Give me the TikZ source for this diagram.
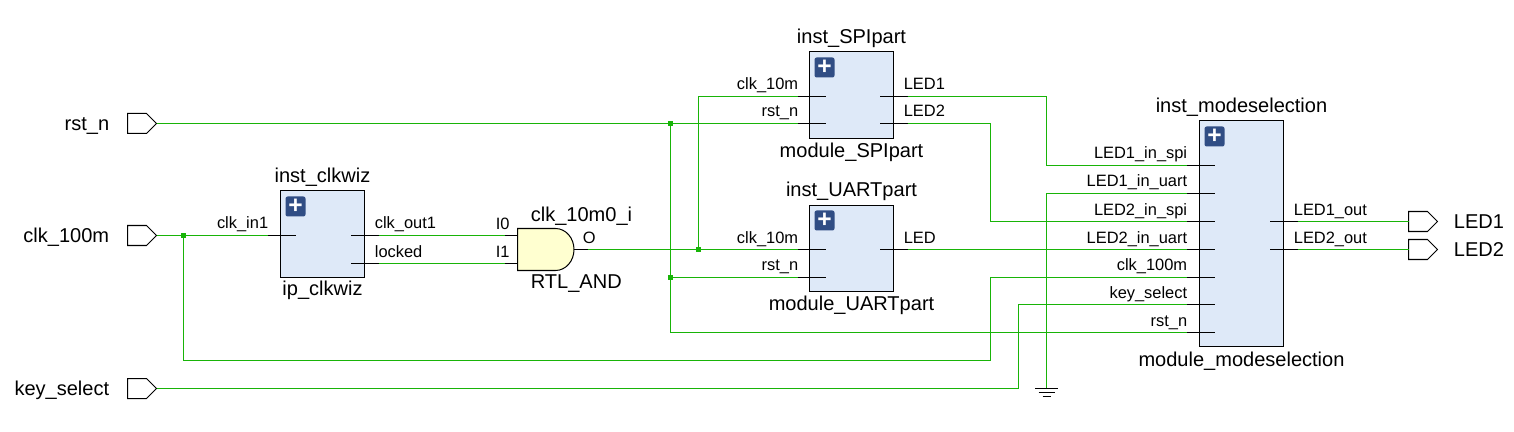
\documentclass[tikz,border=0pt]{standalone}
\usepackage{fontspec}
\setmainfont{Liberation Sans}
\usetikzlibrary{shapes,shapes.symbols,arrows,positioning,calc}
\definecolor{wiregreen}{RGB}{24,180,8}
\definecolor{blockblue}{RGB}{222,233,248}
\definecolor{plusblue}{RGB}{48,77,132}
\definecolor{gateyellow}{RGB}{255,255,208}
\def\px{0.02cm}
\tikzset{
  wire/.style={draw=wiregreen, line width=0.57pt},
  pinline/.style={draw=black, line width=0.57pt},
  blockbox/.style={draw=black, fill=blockblue, line width=0.62pt, inner sep=0pt, outer sep=0pt},
  plusicon/.style={fill=plusblue, rounded corners=1.2pt, minimum size=20*\px, inner sep=0pt, text=white, font=\fontsize{14}{14}\selectfont\bfseries},
  junction/.style={fill=wiregreen, minimum size=5.5*\px, inner sep=0pt, outer sep=0pt},
  portbox/.style={draw=black, fill=white, line width=0.57pt, shape=signal, signal to=east, signal from=nowhere, signal pointer angle=90, minimum width=29*\px, minimum height=20*\px, inner sep=0pt, outer sep=0pt, anchor=west},
  biglabel/.style={font=\fontsize{11.4}{11.4}\selectfont, inner sep=0pt},
  pinlabel/.style={font=\fontsize{9.35}{9.35}\selectfont, inner sep=0pt}
}
\begin{document}
\begin{tikzpicture}[x=0.02cm, y=-0.02cm]
    \useasboundingbox (0,0) rectangle (1514,432);
    \begin{scope}[shift={(0.5,0.5)}]

    % Top level ports
    \node[portbox] (rstport) at (127,123) {};
    \node[portbox] (clkport) at (127,235) {};
    \node[portbox] (keyport) at (127,388) {};
    \node[portbox] (ledoneport) at (1408,221) {};
    \node[portbox] (ledtwoport) at (1408,249) {};
    \node[biglabel, anchor=base east] (rstlabel) at (109,130) {rst\_n};
    \node[biglabel, anchor=base east] (clklabel) at (109,242) {clk\_100m};
    \node[biglabel, anchor=base east] (keylabel) at (109,395) {key\_select};
    \node[biglabel, anchor=base west] (ledonelabel) at (1453,228) {LED1};
    \node[biglabel, anchor=base west] (ledtwolabel) at (1453,256) {LED2};

    % Blocks
    \node[blockbox, minimum width=84*\px, minimum height=87*\px] (clkwiz) at (322,233.5) {};
    \node[blockbox, minimum width=84*\px, minimum height=87*\px] (spi) at (851,94.5) {};
    \node[blockbox, minimum width=84*\px, minimum height=86*\px] (uart) at (851,248) {};
    \node[blockbox, minimum width=84*\px, minimum height=226*\px] (mode) at (1241,233) {};
    \node[plusicon] (clkwizplus) at (295,206) {+};
    \node[plusicon] (spiplus) at (824,67) {+};
    \node[plusicon] (uartplus) at (824,220) {+};
    \node[plusicon] (modeplus) at (1214,136) {+};
    \node[biglabel, anchor=base] (clkwiztop) at (322,182) {inst\_clkwiz};
    \node[biglabel, anchor=base] (clkwizbot) at (322,295) {ip\_clkwiz};
    \node[biglabel, anchor=base] (spitop) at (851,43) {inst\_SPIpart};
    \node[biglabel, anchor=base] (spibot) at (851,157) {module\_SPIpart};
    \node[biglabel, anchor=base] (uarttop) at (851,196) {inst\_UARTpart};
    \node[biglabel, anchor=base] (uartbot) at (851,310) {module\_UARTpart};
    \node[biglabel, anchor=base] (modetop) at (1241,112) {inst\_modeselection};
    \node[biglabel, anchor=base] (modebot) at (1241,366) {module\_modeselection};

    % AND gate
    \draw[fill=gateyellow, line width=0.57pt] (517,228) -- (555,228) arc[start angle=-90, end angle=90, x radius=18.5, y radius=21] -- (517,270) -- cycle;
    \coordinate (gateina) at (517,235);
    \coordinate (gateinb) at (517,263);
    \coordinate (gateoutpin) at (573.5,249);
    \node[biglabel, anchor=base west] (gatetop) at (530,221) {clk\_10m0\_i};
    \node[biglabel, anchor=base west] (gatebot) at (530,288) {RTL\_AND};
    \node[pinlabel, anchor=base west] (gatei) at (495,229) {I0};
    \node[pinlabel, anchor=base west] (gateii) at (495,257) {I1};
    \node[pinlabel, anchor=base west] (gateo) at (582,243) {O};

    % Pins of the blocks: outer end, inner end, text
    \foreach \pinname/\pinx/\piny/\pintext in {clkin/267/235/clk\_in1, spiclk/797/96/clk\_10m, spirst/797/123/rst\_n, uartclk/797/249/clk\_10m, uartrst/797/277/rst\_n, modea/1186/165/LED1\_in\_spi, modeb/1186/193/LED1\_in\_uart, modec/1186/221/LED2\_in\_spi, moded/1186/249/LED2\_in\_uart, modee/1186/277/clk\_100m, modef/1186/304/key\_select, modeg/1186/332/rst\_n} {
        \coordinate (\pinname) at (\pinx,\piny);
        \draw[pinline] (\pinname) -- ++(28,0);
        \node[pinlabel, anchor=base east] (\pinname text) at (\pinx+1,\piny-6.5) {\pintext};
    }
    \foreach \pinname/\pinx/\piny/\pintext in {clkout/378/235/clk\_out1, clklock/378/263/locked, spiledone/907/96/LED1, spiledtwo/907/123/LED2, uartled/907/249/LED, modeoutone/1297/221/LED1\_out, modeouttwo/1297/249/LED2\_out} {
        \coordinate (\pinname) at (\pinx,\piny);
        \draw[pinline] (\pinname) -- ++(-28,0);
        \node[pinlabel, anchor=base west] (\pinname text) at (\pinx-4,\piny-6.5) {\pintext};
    }
    \coordinate (gatein) at (504,235);
    \coordinate (gateinn) at (504,263);
    \coordinate (gateout) at (587,249);
    \draw[pinline] (gatein) -- (gateina);
    \draw[pinline] (gateinn) -- (gateinb);
    \draw[pinline] (gateoutpin) -- (gateout);

    % Bends and junctions
    \node[junction] (clkdot) at (183,235) {};
    \node[junction] (rstdot) at (670,123) {};
    \node[junction] (rstdottwo) at (670,277) {};
    \node[junction] (clktendot) at (698,249) {};
    \coordinate (rstcorner) at (670,332);
    \coordinate (clkcorner) at (183,360);
    \coordinate (clkrise) at (990,277);
    \coordinate (ledonebend) at (1046,165);
    \coordinate (ledtwobend) at (990,221);
    \coordinate (keyrise) at (1018,304);
    \coordinate (gndtop) at (1046,388);

    % Wires
    \draw[wire] (rstport.east) -- (spirst);
    \draw[wire] (clkport.east) -- (clkin);
    \draw[wire] (clkout) -- (gatein);
    \draw[wire] (clklock) -- (gateinn);
    \draw[wire] (gateout) -- (uartclk);
    \draw[wire] (clktendot.center) |- (spiclk);
    \draw[wire] (rstdot.center) -- (rstcorner) -- (modeg);
    \draw[wire] (rstdottwo.center) -- (uartrst);
    \draw[wire] (clkdot.center) -- (clkcorner) -| (clkrise) -- (modee);
    \draw[wire] (keyport.east) -| (keyrise) -- (modef);
    \draw[wire] (spiledone) -| (ledonebend) -- (modea);
    \draw[wire] (spiledtwo) -| (ledtwobend) -- (modec);
    \draw[wire] (uartled) -- (moded);
    \draw[wire] (modeb) -| (gndtop);
    \draw[wire] (modeoutone) -- (ledoneport.west);
    \draw[wire] (modeouttwo) -- (ledtwoport.west);

    % Ground
    \draw[pinline] ($(gndtop)+(-11.5,0)$) -- ++(23,0);
    \draw[pinline] ($(gndtop)+(-8,4)$) -- ++(16,0);
    \draw[pinline] ($(gndtop)+(-4,8)$) -- ++(8,0);
    \end{scope}
\end{tikzpicture}
\end{document}
